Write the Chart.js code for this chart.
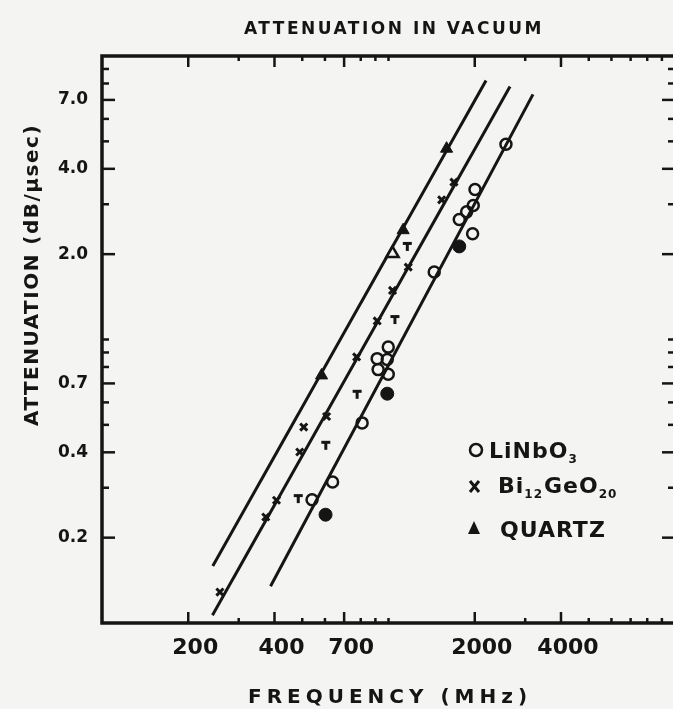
<!DOCTYPE html>
<html><head><meta charset="utf-8">
<style>
html,body{margin:0;padding:0;background:#f4f4f2;overflow:hidden;width:673px;height:709px;}
#wrap{position:absolute;left:0;top:0;width:700px;height:709px;}
canvas{display:block;}
</style>
<script src="https://cdn.jsdelivr.net/npm/chart.js@4.4.1/dist/chart.umd.min.js"></script>
</head><body><div id="wrap"><canvas id="c" width="700" height="709" style="width:700px;height:709px"></canvas></div>
<script>
// ---------- data ----------
const chartTitle = 'ATTENUATION IN VACUUM';
const xTitle = 'FREQUENCY (MHz)';
const yTitle = 'ATTENUATION (dB/\u03BCsec)';

const xTickValues = [200,300,400,500,600,700,800,900,1000,2000,3000,4000,5000,6000,7000,8000,9000];
const xTickLabels = ['200','','400','','','700','','','','2000','','4000','','','','',''];
const yTickValues = [0.2,0.3,0.4,0.5,0.6,0.7,0.8,0.9,1,2,3,4,5,6,7,8,9];
const yTickLabels = ['0.2','','0.4','','','0.7','','','','2.0','','4.0','','','7.0','',''];

// LiNbO3 (open circles)
const linbo3Freq = [2570,2004,1976,1874,1766,1966,1444,998,913,990,920,998,809,638,541];
const linbo3Att  = [4.88,3.38,2.97,2.82,2.65,2.36,1.73,0.94,0.856,0.85,0.783,0.754,0.508,0.3145,0.272];
// LiNbO3 (filled circles)
const linbo3bFreq = [1766,990,603];
const linbo3bAtt  = [2.13,0.644,0.241];
// Bi12GeO20 (x)
const bgoFreq = [1692,1533,1172,1033,913,774,608,506,490,406.5,373,258];
const bgoAtt  = [3.59,3.11,1.80,1.49,1.163,0.868,0.535,0.491,0.401,0.271,0.2365,0.1286];
// Quartz (filled triangles / open triangle)
const quartzFreq = [1595,1125,584];
const quartzAtt  = [4.71,2.43,0.747];
const quartzOpenFreq = [1033];
const quartzOpenAtt  = [2.01];
// "T" marks
const tFreq = [1163,1053,777,604,484];
const tAtt  = [2.13,1.176,0.641,0.4235,0.2747];
// fitted lines (end points)
const quartzLineFreq = [243.6,2190];
const quartzLineAtt  = [0.159,8.2];
const bgoLineFreq = [243,2655];
const bgoLineAtt  = [0.1065,7.81];
const linboLineFreq = [387.5,3194];
const linboLineAtt  = [0.1347,7.32];

// ---------- styling ----------
const INK = '#151515';
const BG = '#f4f4f2';
const FONT = '"DejaVu Sans", Verdana, sans-serif';
const pts = (xs, ys) => xs.map((v,i)=>({x:v, y:ys[i]}));

function tMarker(){
  const c = document.createElement('canvas'); c.width = 11; c.height = 11;
  const g = c.getContext('2d'); g.fillStyle = INK;
  g.fillRect(1,1,9,3); g.fillRect(4,1,3,9);
  return c;
}

const lineDs = (xs, ys) => ({data: pts(xs, ys), showLine:true, borderColor:INK, borderWidth:3, pointRadius:0, order:2, clip:false});

function drawRuns(ctx, runs, x, y, size, subSize){
  for (const r of runs){
    if (r.sub){ ctx.font = `bold ${subSize}px ${FONT}`; ctx.fillText(r.t, x, y + 5); }
    else { ctx.font = `bold ${size}px ${FONT}`; ctx.fillText(r.t, x, y); }
    x += ctx.measureText(r.t).width + (r.gap || 0);
  }
}

const framePlugin = {
  id:'frame',
  beforeDraw(chart){
    const {ctx, width, height} = chart;
    ctx.save(); ctx.fillStyle = BG; ctx.fillRect(0,0,width,height); ctx.restore();
  },
  beforeDatasetsDraw(chart){
    const {ctx, chartArea:a, scales:{x, y}} = chart;
    ctx.save();
    ctx.strokeStyle = INK; ctx.lineWidth = 2.5;
    const seg = (x1,y1,x2,y2)=>{ctx.beginPath(); ctx.moveTo(x1,y1); ctx.lineTo(x2,y2); ctx.stroke();};
    xTickValues.forEach((v,i)=>{
      const px = x.getPixelForValue(v); const len = xTickLabels[i] ? 11 : 5;
      seg(px, a.bottom, px, a.bottom - len); seg(px, a.top, px, a.top + len);
    });
    yTickValues.forEach((v,i)=>{
      const py = y.getPixelForValue(v); const len = yTickLabels[i] ? 13 : 7;
      seg(a.left, py, a.left + len, py); seg(a.right, py, a.right - len, py);
    });
    ctx.lineWidth = 3.5;
    ctx.strokeRect(a.left, a.top, a.right - a.left, a.bottom - a.top);
    ctx.restore();
  },
  afterDraw(chart){
    const {ctx} = chart;
    ctx.save();
    ctx.fillStyle = INK; ctx.strokeStyle = INK;
    ctx.font = `bold 17px ${FONT}`; ctx.letterSpacing = '2.5px';
    ctx.textAlign = 'center'; ctx.textBaseline = 'alphabetic';
    ctx.fillText(chartTitle, 394, 34);
    ctx.font = `bold 20px ${FONT}`; ctx.letterSpacing = '5px';
    ctx.fillText(xTitle, 390, 703);
    ctx.save();
    ctx.translate(38, 275); ctx.rotate(-Math.PI/2);
    ctx.font = `bold 20px ${FONT}`; ctx.letterSpacing = '1.5px';
    ctx.fillText(yTitle, 0, 0);
    ctx.restore();
    // legend
    ctx.letterSpacing = '1px'; ctx.textAlign = 'left';
    ctx.lineWidth = 2.5;
    ctx.beginPath(); ctx.arc(476, 450, 6, 0, Math.PI*2); ctx.stroke();
    drawRuns(ctx, [{t:'LiNbO'},{t:'3', sub:true}], 489, 458, 22, 12);
    ctx.lineWidth = 3;
    ctx.beginPath(); ctx.moveTo(470, 481); ctx.lineTo(479, 492); ctx.moveTo(479, 481); ctx.lineTo(470, 492); ctx.stroke();
    drawRuns(ctx, [{t:'Bi'},{t:'12', sub:true, gap:1},{t:'GeO'},{t:'20', sub:true}], 498, 493, 22, 12);
    ctx.beginPath(); ctx.moveTo(474, 521); ctx.lineTo(480, 534); ctx.lineTo(468, 534); ctx.closePath(); ctx.fill();
    drawRuns(ctx, [{t:'QUARTZ'}], 500, 537, 22, 12);
    ctx.restore();
  }
};

const tickFont = (s)=>({family:FONT, weight:'bold', size:s});

new Chart(document.getElementById('c'), {
  type:'scatter',
  data:{datasets:[
    {label:'LiNbO3 fit', ...lineDs(linboLineFreq, linboLineAtt)},
    {label:'BiGeO fit', ...lineDs(bgoLineFreq, bgoLineAtt)},
    {label:'Quartz fit', ...lineDs(quartzLineFreq, quartzLineAtt)},
    {label:'LiNbO3', data:pts(linbo3Freq, linbo3Att), pointStyle:'circle', pointRadius:5.5, borderWidth:2.5, borderColor:INK, backgroundColor:'rgba(0,0,0,0)', order:0},
    {label:'LiNbO3 (filled)', data:pts(linbo3bFreq, linbo3bAtt), pointStyle:'circle', pointRadius:6.5, borderWidth:1, borderColor:INK, backgroundColor:INK, order:0},
    {label:'Bi12GeO20', data:pts(bgoFreq, bgoAtt), pointStyle:'crossRot', pointRadius:5, borderWidth:3, borderColor:INK, backgroundColor:INK, order:0},
    {label:'Quartz', data:pts(quartzFreq, quartzAtt), pointStyle:'triangle', pointRadius:7, borderWidth:1, borderColor:INK, backgroundColor:INK, order:0},
    {label:'Quartz (open)', data:pts(quartzOpenFreq, quartzOpenAtt), pointStyle:'triangle', pointRadius:7, borderWidth:2.5, borderColor:INK, backgroundColor:BG, order:0},
    {label:'T', data:pts(tFreq, tAtt), pointStyle:tMarker(), pointRadius:5, order:0}
  ]},
  options:{
    responsive:false, devicePixelRatio:1, animation:false,
    layout:{padding:{top:56, right:25, left:0, bottom:0}},
    plugins:{legend:{display:false}, title:{display:false}, tooltip:{enabled:false}},
    events:[],
    scales:{
      x:{type:'logarithmic', min:100, max:10000, position:'bottom',
        grid:{display:false, drawTicks:false}, border:{display:false},
        afterBuildTicks:s=>{ s.ticks = xTickValues.map(v=>({value:v})); },
        afterFit:s=>{ s.height = 86; },
        ticks:{autoSkip:false, maxRotation:0, minRotation:0, padding:12, labelOffset:7, color:INK, font:tickFont(22),
          callback:(v)=>{ const i = xTickValues.indexOf(v); return i>=0 ? xTickLabels[i] : ''; }}
      },
      y:{type:'logarithmic', min:0.1, max:10, position:'left',
        grid:{display:false, drawTicks:false}, border:{display:false},
        afterBuildTicks:s=>{ s.ticks = yTickValues.map(v=>({value:v})); },
        afterFit:s=>{ s.width = 102; },
        ticks:{autoSkip:false, padding:14, color:INK, font:tickFont(17),
          callback:(v)=>{ const i = yTickValues.indexOf(v); return i>=0 ? yTickLabels[i] : ''; }}
      }
    }
  },
  plugins:[framePlugin]
});
</script>
</body></html>
